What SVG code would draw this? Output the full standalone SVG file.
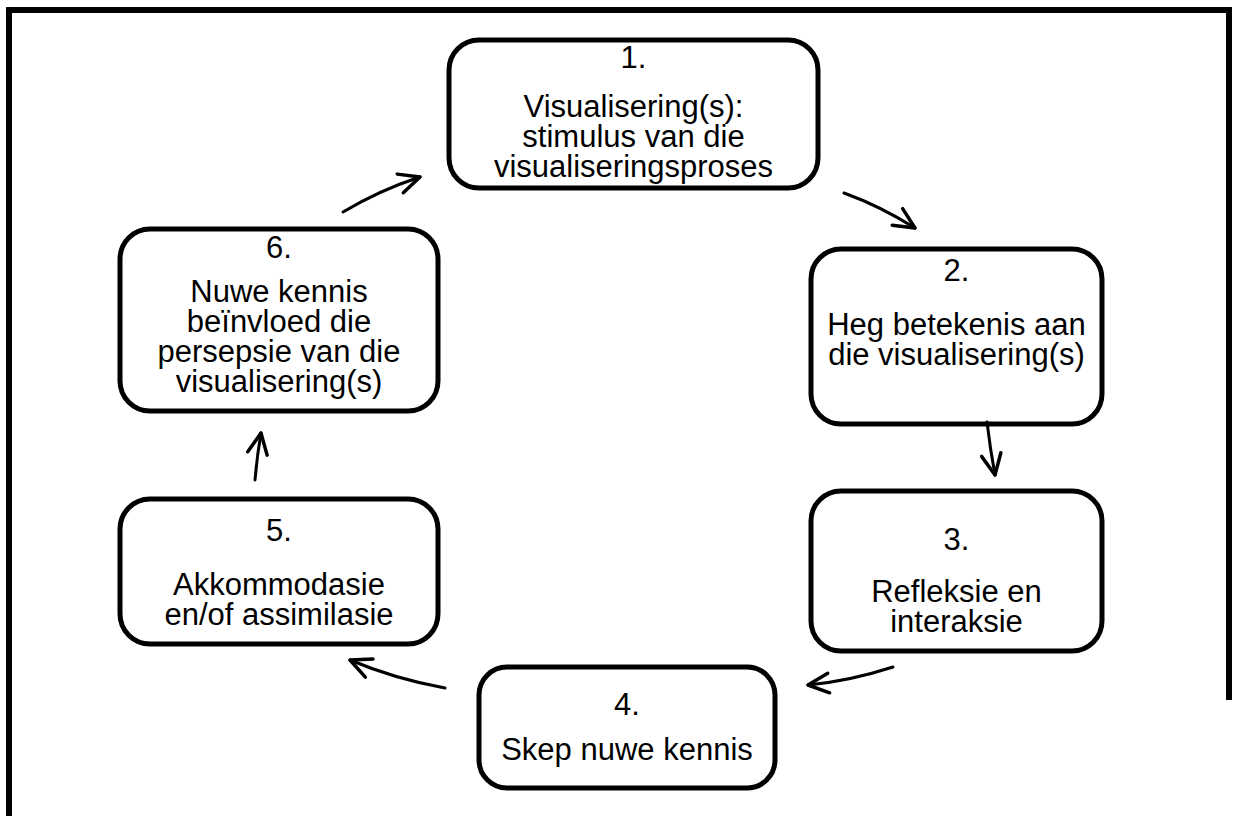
<svg xmlns="http://www.w3.org/2000/svg" width="1235" height="816" viewBox="0 0 1235 816">
<defs>
<style>
.box{fill:#fff;stroke:#000;stroke-width:5}
.t{font-family:"Liberation Sans",Arial,sans-serif;font-size:31px;fill:#000;text-anchor:middle}
.c{fill:none;stroke:#000;stroke-width:3;stroke-linecap:round}
</style>
<marker id="ah" markerUnits="userSpaceOnUse" markerWidth="30" markerHeight="30" viewBox="-22 -12 26 24" refX="0" refY="0" orient="auto">
<path d="M -18 -8.5 L 0 0 L -18 8.5" fill="none" stroke="#000" stroke-width="3" stroke-linecap="round" stroke-linejoin="round"/>
</marker>
</defs>
<rect width="1235" height="816" fill="#fff"/>
<path d="M 9 830 L 9 10 L 1229 10 L 1229 700" fill="none" stroke="#000" stroke-width="6"/>
<g id="n1">
<rect class="box" x="449" y="40" width="369" height="148" rx="30"/>
<text class="t" x="633.5" y="68">1.</text>
<text class="t" x="633.5" y="117">Visualisering(s):</text>
<text class="t" x="633.5" y="147">stimulus van die</text>
<text class="t" x="633.5" y="177">visualiseringsproses</text>
</g>
<g id="n2">
<rect class="box" x="811" y="249" width="291" height="175" rx="30"/>
<text class="t" x="956.5" y="281">2.</text>
<text class="t" x="956.5" y="335">Heg betekenis aan</text>
<text class="t" x="956.5" y="365">die visualisering(s)</text>
</g>
<g id="n3">
<rect class="box" x="811" y="491" width="291" height="160" rx="30"/>
<text class="t" x="956.5" y="550">3.</text>
<text class="t" x="956.5" y="602">Refleksie en</text>
<text class="t" x="956.5" y="632">interaksie</text>
</g>
<g id="n4">
<rect class="box" x="479" y="667" width="296" height="121" rx="28"/>
<text class="t" x="627" y="715">4.</text>
<text class="t" x="627" y="760">Skep nuwe kennis</text>
</g>
<g id="n5">
<rect class="box" x="120" y="499" width="318" height="145" rx="30"/>
<text class="t" x="279" y="541">5.</text>
<text class="t" x="279" y="595">Akkommodasie</text>
<text class="t" x="279" y="625">en/of assimilasie</text>
</g>
<g id="n6">
<rect class="box" x="120" y="229" width="318" height="182" rx="30"/>
<text class="t" x="279" y="258">6.</text>
<text class="t" x="279" y="302">Nuwe kennis</text>
<text class="t" x="279" y="332">beïnvloed die</text>
<text class="t" x="279" y="362">persepsie van die</text>
<text class="t" x="279" y="392">visualisering(s)</text>
</g>
<g id="connectors">
<path class="c" d="M 343 212 Q 380 190 420 177" marker-end="url(#ah)"/>
<path class="c" d="M 844 193 Q 880 206 915 228" marker-end="url(#ah)"/>
<path class="c" d="M 987 422 Q 990 448 995 475" marker-end="url(#ah)"/>
<path class="c" d="M 893 667 Q 850 681 808 685" marker-end="url(#ah)"/>
<path class="c" d="M 445 688 Q 395 679 350 660" marker-end="url(#ah)"/>
<path class="c" d="M 255 480 Q 257 456 261 433" marker-end="url(#ah)"/>
</g>
</svg>
